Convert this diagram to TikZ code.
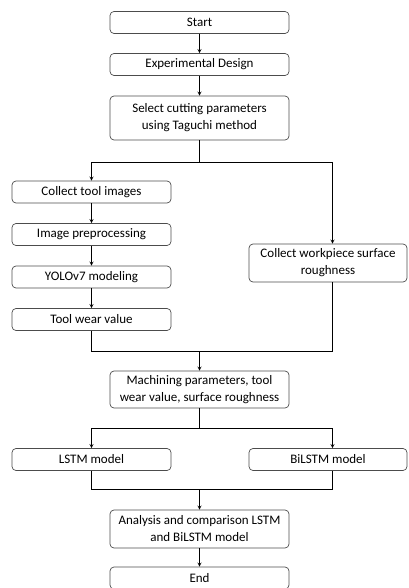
\documentclass[tikz,border=0pt]{standalone}
\usepackage{fontspec}
\setmainfont{Carlito}
\usepackage{tikz}
\usetikzlibrary{shapes,arrows,positioning,calc}
\tikzstyle{step1} = [rectangle, rounded corners=4pt, minimum width=179pt, minimum height=22pt, text centered, draw=black!70, line width=0.7pt, font=\fontsize{13}{17}\selectfont, align=center, inner sep=2pt]
\tikzstyle{side} = [step1, minimum width=159pt]
\tikzstyle{arrow} = [line width=0.8pt,->,>=stealth]
\tikzstyle{line} = [line width=0.8pt]

\begin{document}
\begin{tikzpicture}[node distance=42pt]
\useasboundingbox (0,0) rectangle (408pt,-588pt);

\node (start) [step1] at (199.5pt,-22.5pt) {Start};
\node (design) [step1, below of=start] {Experimental Design};
\node (select) [step1, minimum height=44pt, below of=design, node distance=53.5pt] {Select cutting parameters\\using Taguchi method};

\node (images) [side, below of=select, xshift=-108pt, node distance=74pt] {Collect tool images};
\node (prep) [side, below of=images, node distance=42.5pt] {Image preprocessing};
\node (yolo) [side, below of=prep, node distance=42.5pt] {YOLOv7 modeling};
\node (wear) [side, below of=yolo, node distance=42.5pt] {Tool wear value};

\node (rough) [side, minimum width=158pt, minimum height=38pt, below of=select, xshift=128.5pt, node distance=145pt] {Collect workpiece surface\\roughness};

\node (mach) [step1, minimum height=37pt, below of=wear, xshift=108pt, node distance=70pt] {Machining parameters, tool\\wear value, surface roughness};

\node (lstm) [side, below of=mach, xshift=-108pt, node distance=70pt] {LSTM model};
\node (bilstm) [side, minimum width=158pt, right of=lstm, node distance=236.5pt] {BiLSTM model};

\node (anal) [step1, minimum height=38pt, below of=mach, node distance=139.5pt] {Analysis and comparison LSTM\\and BiLSTM model};
\node (end) [step1, below of=anal, node distance=49pt] {End};

%arrows
\draw [arrow] (start) -- (design);
\draw [arrow] (design) -- (select);

\coordinate (split1) at ($(select.south)+(0,-22pt)$);
\draw [line] (select.south) -- (split1);
\draw [arrow] (split1) -| (images.north);
\draw [arrow] (split1) -| ([xshift=4.5pt]rough.north);

\draw [arrow] (images) -- (prep);
\draw [arrow] (prep) -- (yolo);
\draw [arrow] (yolo) -- (wear);

\coordinate (join1) at ($(mach.north)+(0,19pt)$);
\draw [line] (wear.south) |- (join1);
\draw [line] ([xshift=4.5pt]rough.south) |- (join1);
\draw [arrow] (join1) -- (mach);

\coordinate (split2) at ($(mach.south)+(0,-20pt)$);
\draw [line] (mach.south) -- (split2);
\draw [arrow] (split2) -| (lstm.north);
\draw [arrow] (split2) -| ([xshift=4.5pt]bilstm.north);

\coordinate (join2) at ($(anal.north)+(0,20pt)$);
\draw [line] (lstm.south) |- (join2);
\draw [line] ([xshift=4.5pt]bilstm.south) |- (join2);
\draw [arrow] (join2) -- (anal);

\draw [arrow] (anal) -- (end);

\end{tikzpicture}
\end{document}
